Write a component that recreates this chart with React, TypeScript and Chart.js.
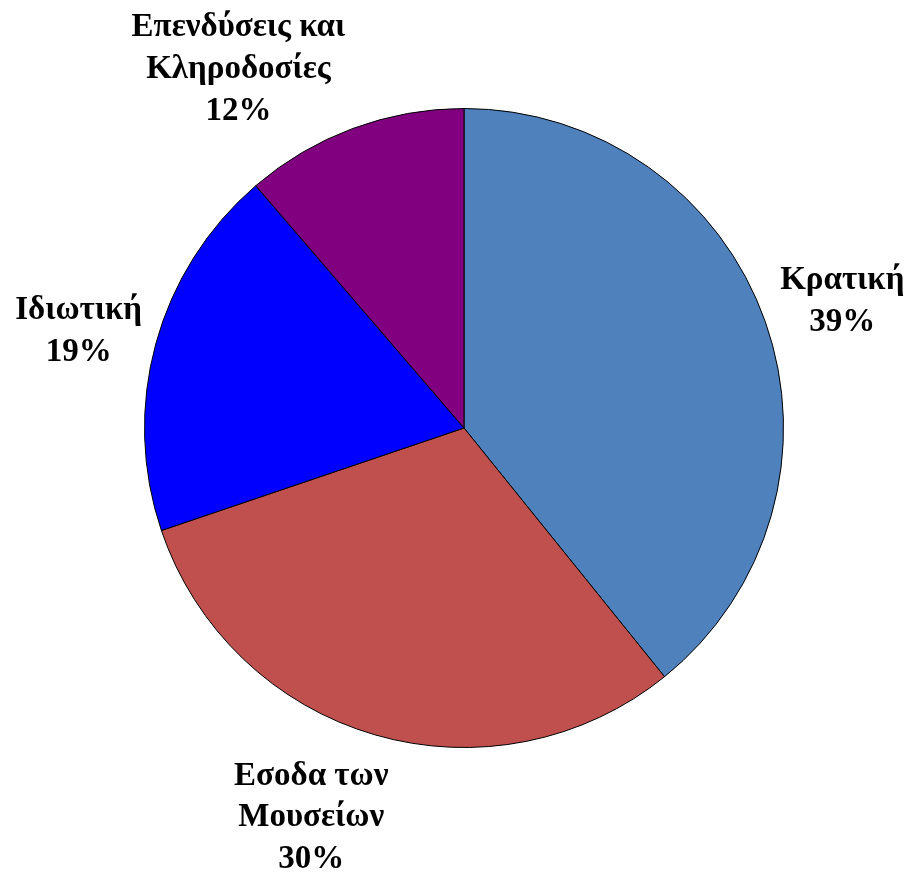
import React, { useEffect, useRef } from "react";
import { Chart, registerables } from "chart.js";

Chart.register(...registerables);

const categories = ["Κρατική", "Εσοδα των Μουσείων", "Ιδιωτική", "Επενδύσεις και Κληροδοσίες"];
const categoryLines = [["Κρατική"], ["Εσοδα των", "Μουσείων"], ["Ιδιωτική"], ["Επενδύσεις και", "Κληροδοσίες"]];
const values = [39.2, 30.6, 18.9, 11.3];
const percentLabels = ["39%", "30%", "19%", "12%"];
const colors = ["#4F81BD", "#C0504D", "#0000FF", "#800080"];

// label anchor (first baseline) relative to pie centre, in units of radius
const LABEL_OFFSETS = [
  [1.184, -0.434],
  [-0.478, 1.116],
  [-1.206, -0.341],
  [-0.706, -1.228],
];
const LINE_HEIGHT = 42 / 320;

const labelPlugin = {
  id: "outerLabels",
  afterDraw(chart: any) {
    const meta = chart.getDatasetMeta(0);
    const ctx = chart.ctx;
    ctx.save();
    ctx.fillStyle = "#000";
    ctx.font = "bold 33px 'Liberation Serif', 'Times New Roman', serif";
    ctx.textAlign = "center";
    ctx.textBaseline = "alphabetic";
    meta.data.forEach((arc: any, i: number) => {
      const { x, y, outerRadius } = arc.getProps(["x", "y", "outerRadius"], true);
      const r = outerRadius;
      const lx = x + LABEL_OFFSETS[i][0] * r;
      let ly = y + LABEL_OFFSETS[i][1] * r;
      const lines = [...categoryLines[i], percentLabels[i]];
      lines.forEach((t) => {
        ctx.fillText(t, lx, ly);
        ly += LINE_HEIGHT * r;
      });
    });
    ctx.restore();
  },
};

export default function App() {
  const ref = useRef<HTMLCanvasElement>(null);
  useEffect(() => {
    if (!ref.current) return;
    const chart = new Chart(ref.current, {
      type: "pie",
      data: {
        labels: categories,
        datasets: [
          {
            data: values,
            backgroundColor: colors,
            borderColor: "#000000",
            borderWidth: 1,
          },
        ],
      },
      options: {
        animation: false,
        responsive: true,
        maintainAspectRatio: false,
        layout: { padding: { left: 144, right: 126, top: 108, bottom: 125 } },
        plugins: {
          legend: { display: false },
          tooltip: { enabled: false },
        },
      },
      plugins: [labelPlugin],
    });
    return () => chart.destroy();
  }, []);
  return (
    <div style={{ position: "absolute", left: 0, top: 0, width: 910, height: 873, background: "#fff" }}>
      <canvas ref={ref} />
    </div>
  );
}
